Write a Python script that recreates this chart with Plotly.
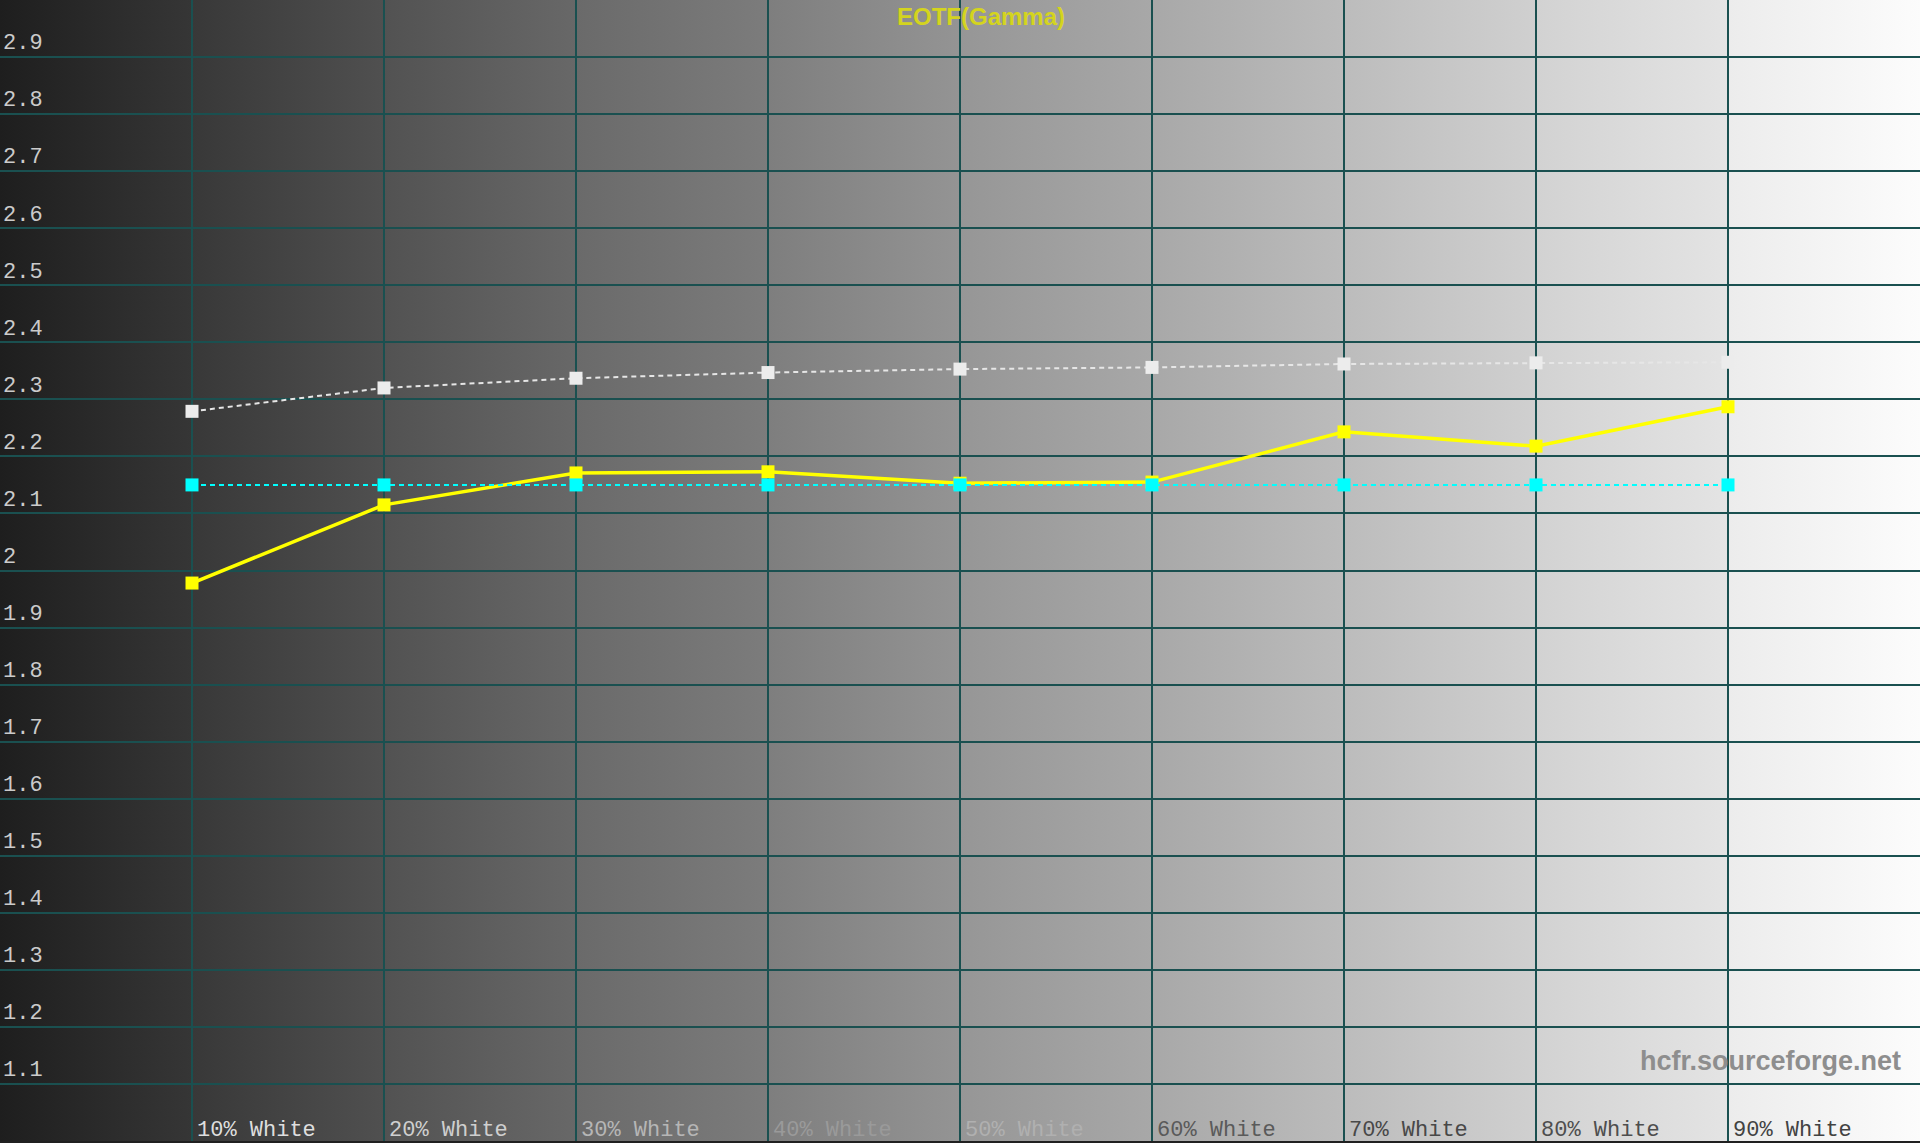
import base64
import plotly.graph_objects as go

# DATA
steps = [10, 20, 30, 40, 50, 60, 70, 80, 90]
step_labels = ["10% White", "20% White", "30% White", "40% White", "50% White",
               "60% White", "70% White", "80% White", "90% White"]
label_colors = ["#dedede", "#cfcfcf", "#b6b6b6", "#9a9a9a", "#b0b0b0",
                "#5a5a5a", "#484848", "#4e4e4e", "#424242"]
gamma_measured = [1.978, 2.115, 2.171, 2.173, 2.153, 2.155, 2.243, 2.218, 2.287]
gamma_reference = [2.279, 2.320, 2.337, 2.347, 2.353, 2.356, 2.362, 2.364, 2.365]
gamma_target = [2.15, 2.15, 2.15, 2.15, 2.15, 2.15, 2.15, 2.15, 2.15]
y_ticks = [1.1, 1.2, 1.3, 1.4, 1.5, 1.6, 1.7, 1.8, 1.9, 2.0,
           2.1, 2.2, 2.3, 2.4, 2.5, 2.6, 2.7, 2.8, 2.9]
y_tick_text = ["1.1", "1.2", "1.3", "1.4", "1.5", "1.6", "1.7", "1.8", "1.9", "2",
               "2.1", "2.2", "2.3", "2.4", "2.5", "2.6", "2.7", "2.8", "2.9"]

# grey ramp behind the chart, one gradient per 10% column
col_start = ["#1e1e1e", "#383838", "#525252", "#6a6a6a", "#7e7e7e",
             "#969696", "#a8a8a8", "#bcbcbc", "#d2d2d2", "#ececec"]
col_end = ["#363636", "#505050", "#686868", "#7c7c7c", "#949494",
           "#a8a8a8", "#bcbcbc", "#d0d0d0", "#e4e4e4", "#fcfcfc"]

GRID = "#1a5050"
MONO = "Liberation Mono, Courier New, monospace"


def background_svg():
    defs = ""
    rects = ""
    for i, (c0, c1) in enumerate(zip(col_start, col_end)):
        defs += ('<linearGradient id="g%d" x1="0" y1="0" x2="1" y2="0">'
                 '<stop offset="0" stop-color="%s"/><stop offset="1" stop-color="%s"/>'
                 '</linearGradient>' % (i, c0, c1))
        rects += '<rect x="%d" y="0" width="10.05" height="10" fill="url(#g%d)"/>' % (i * 10, i)
    svg = ('<svg xmlns="http://www.w3.org/2000/svg" width="1920" height="1143" '
           'viewBox="0 0 100 10" preserveAspectRatio="none"><defs>%s</defs>%s</svg>' % (defs, rects))
    return "data:image/svg+xml;base64," + base64.b64encode(svg.encode()).decode()


fig = go.Figure()

fig.add_trace(go.Scatter(
    x=steps, y=gamma_reference, mode="lines+markers",
    line=dict(color="#e6e6e6", width=2, dash="5px,4px"),
    marker=dict(symbol="square", size=13, color="#ececec"),
    hoverinfo="skip"))
fig.add_trace(go.Scatter(
    x=steps, y=gamma_measured, mode="lines+markers",
    line=dict(color="#ffff00", width=3.5),
    marker=dict(symbol="square", size=13, color="#ffff00"),
    hoverinfo="skip"))
fig.add_trace(go.Scatter(
    x=steps, y=gamma_target, mode="lines+markers",
    line=dict(color="#00ffff", width=2, dash="5px,4px"),
    marker=dict(symbol="square", size=13, color="#00ffff"),
    hoverinfo="skip"))

x_text = ['<span style="color:%s">%s</span>' % (c, t) for c, t in zip(label_colors, step_labels)]

fig.update_layout(
    width=1920, height=1143,
    margin=dict(l=0, r=0, t=0, b=0),
    paper_bgcolor="#202020",
    plot_bgcolor="rgba(0,0,0,0)",
    showlegend=False,
    images=[dict(source=background_svg(), xref="paper", yref="paper",
                 x=0, y=1, sizex=1, sizey=1, sizing="stretch",
                 xanchor="left", yanchor="top", layer="below")],
    xaxis=dict(
        range=[0, 100], tickvals=steps, ticktext=x_text,
        showgrid=True, gridcolor=GRID, gridwidth=2,
        zeroline=False, showline=False, ticks="",
        ticklabelposition="inside right",
        ticklabelshift=5, ticklabelstandoff=-5,
        tickfont=dict(family=MONO, size=22, color="#cfcfcf"),
    ),
    yaxis=dict(
        range=[1.0, 3.0], tickvals=y_ticks, ticktext=y_tick_text,
        showgrid=True, gridcolor=GRID, gridwidth=2,
        zeroline=False, showline=False, ticks="",
        ticklabelposition="inside top",
        tickfont=dict(family=MONO, size=22, color="#cbcbcb"),
    ),
    annotations=[
        dict(text="<b>EOTF(Gamma)</b>", x=0.511, y=1.0, xref="paper", yref="paper",
             xanchor="center", yanchor="top", yshift=-1, showarrow=False,
             font=dict(family="Liberation Sans, Arial", size=24, color="#d4d41e")),
        dict(text="<b>hcfr.sourceforge.net</b>", x=0.991, y=0.07, xref="paper", yref="paper",
             xanchor="right", yanchor="middle", showarrow=False,
             font=dict(family="Liberation Sans, Arial", size=27, color="#8e8e8e")),
    ],
)

fig.write_html("out.html", config=dict(displayModeBar=False),
               post_script="document.body.style.margin='0';")
